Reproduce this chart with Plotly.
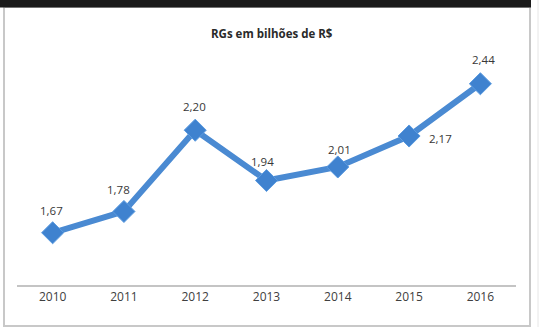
import plotly.graph_objects as go

years = ["2010", "2011", "2012", "2013", "2014", "2015", "2016"]
values = [1.67, 1.78, 2.20, 1.94, 2.01, 2.17, 2.44]
labels = ["1,67", "1,78", "2,20", "1,94", "2,01", "2,17", "2,44"]
label_dx = [-1, -5, -1, -4, 2, 31, 3]
label_dy = [22, 22, 24, 19, 17, -2, 24]
title_text = "RGs em bilhões de R$"

W, H = 542, 327
def px(x):
    return x / W
def py(y):
    return (H - y) / H

font_family = "Open Sans, Lato, sans-serif"

fig = go.Figure()
fig.add_trace(go.Scatter(
    x=years, y=values, mode="lines+markers",
    line=dict(color="#4a8ad2", width=6),
    marker=dict(symbol="diamond", size=17, color="#3f82cf",
                line=dict(color="#5b9be0", width=1)),
    cliponaxis=False, showlegend=False,
))

annotations = [
    dict(text=f"<b>{title_text}</b>", xref="paper", yref="paper",
         x=px(272), y=py(34), showarrow=False,
         xanchor="center", yanchor="middle",
         font=dict(family=font_family, size=11.5, color="#2a2a2a")),
]
for i, (v, lab, dx, dy) in enumerate(zip(values, labels, label_dx, label_dy)):
    annotations.append(dict(
        x=i, y=v, xref="x", yref="y", text=lab, showarrow=False,
        xshift=dx, yshift=dy, xanchor="center", yanchor="middle",
        font=dict(family=font_family, size=11.5, color="#383838"),
    ))

fig.update_layout(
    width=W, height=H,
    margin=dict(l=0, r=0, t=0, b=0),
    paper_bgcolor="white", plot_bgcolor="white",
    xaxis=dict(domain=[px(17), px(516)], type="category",
               categoryorder="array", categoryarray=years,
               range=[-0.5, len(years) - 0.5], autorange=False,
               showgrid=False, zeroline=False,
               showline=True, linecolor="#c4c4c4", linewidth=2,
               ticks="", tickfont=dict(family=font_family, size=12, color="#404040"),
               fixedrange=True),
    yaxis=dict(domain=[py(285), py(52.8)], range=[1.4, 2.6], autorange=False,
               visible=False, showgrid=False, zeroline=False, fixedrange=True),
    shapes=[
        dict(type="rect", xref="paper", yref="paper",
             x0=px(4), x1=px(530), y0=py(326), y1=py(7),
             line=dict(color="#c8c8c8", width=2), fillcolor="rgba(0,0,0,0)", layer="below"),
        dict(type="rect", xref="paper", yref="paper",
             x0=0, x1=px(531), y0=py(7.5), y1=1,
             line=dict(width=0), fillcolor="#1a1a1a"),
        dict(type="line", xref="paper", yref="paper",
             x0=px(538), x1=px(538), y0=0, y1=1,
             line=dict(color="#e6e6e6", width=1)),
    ],
    annotations=annotations,
)

fig.write_html("out.html")
